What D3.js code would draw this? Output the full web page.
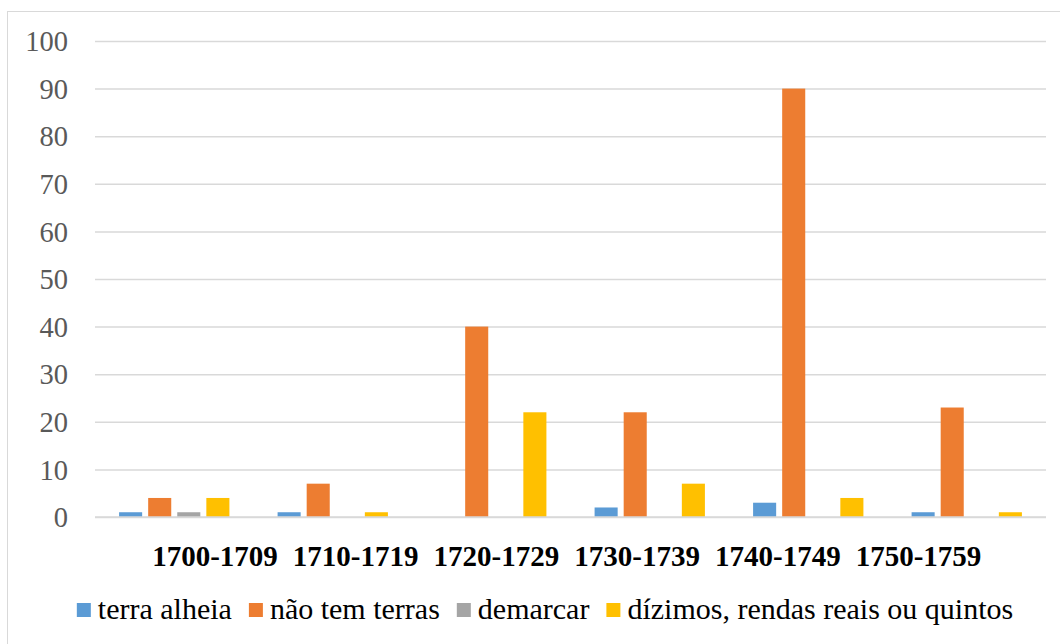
<!DOCTYPE html>
<html>
<head>
<meta charset="utf-8">
<script src="https://cdn.jsdelivr.net/npm/d3@7"></script>
<style>
  html, body { margin: 0; padding: 0; background: #fff; }
  svg { display: block; }
  svg text { font-family: "Times New Roman", "Liberation Serif", Tinos, "DejaVu Serif", serif !important; }
</style>
</head>
<body>
<svg id="chart" width="1060" height="644"></svg>
<script>
const categories = ["1700-1709", "1710-1719", "1720-1729", "1730-1739", "1740-1749", "1750-1759"];
const seriesNames = ["terra alheia", "não tem terras", "demarcar", "dízimos, rendas reais ou quintos"];
const terraAlheia = [1, 1, 0, 2, 3, 1];
const naoTemTerras = [4, 7, 40, 22, 90, 23];
const demarcar = [1, 0, 0, 0, 0, 0];
const dizimos = [4, 1, 22, 7, 4, 1];
const yTicks = [0, 10, 20, 30, 40, 50, 60, 70, 80, 90, 100];
const colors = ["#5B9BD5", "#ED7D31", "#A5A5A5", "#FFC000"];

const seriesValues = [terraAlheia, naoTemTerras, demarcar, dizimos];

const svg = d3.select("#chart");
const W = 1060, H = 644;

svg.append("rect").attr("x", 7.5).attr("y", 11.5).attr("width", W).attr("height", H)
  .attr("fill", "#fff").attr("stroke", "#d9d9d9").attr("stroke-width", 1);

const plot = { left: 95, right: 1046, top: 41, bottom: 517 };

const x0 = d3.scaleBand().domain(categories).range([plot.left, plot.right]).padding(0);
const groupW = x0.bandwidth();
const x1 = d3.scaleBand().domain(seriesNames)
  .range([groupW * 0.152, groupW * 0.848]).paddingInner(0.207).paddingOuter(0);
const y = d3.scaleLinear().domain([0, 100]).range([plot.bottom, plot.top]);

const yAxis = d3.axisLeft(y).tickValues(yTicks).tickSize(-(plot.right - plot.left)).tickPadding(27).tickFormat(d3.format("d"));
const gy = svg.append("g").attr("transform", `translate(${plot.left},0)`).call(yAxis);
gy.attr("font-family", null).attr("font-size", null);
gy.select(".domain").remove();
gy.selectAll(".tick line").attr("stroke", "#d9d9d9").attr("stroke-width", 1.5);
gy.selectAll(".tick text").attr("fill", "#595959").style("font-size", "28.5px").attr("dy", "0.34em");

const groups = svg.append("g").selectAll("g").data(categories).join("g")
  .attr("transform", d => `translate(${x0(d)},0)`);
groups.selectAll("rect")
  .data((c, ci) => seriesNames.map((s, si) => ({ s, si, v: seriesValues[si][ci] })))
  .join("rect")
  .filter(d => d.v > 0)
  .attr("x", d => x1(d.s))
  .attr("width", x1.bandwidth())
  .attr("y", d => y(d.v))
  .attr("height", d => y(0) - y(d.v))
  .attr("fill", d => colors[d.si]);

svg.append("line").attr("x1", plot.left).attr("x2", plot.right)
  .attr("y1", y(0)).attr("y2", y(0)).attr("stroke", "#d9d9d9").attr("stroke-width", 1.5);

// category labels: packed tightly under the plot as in the reference
const xLabel = d3.scalePoint().domain(categories).range([214.5, 918]);
const xAxis = d3.axisBottom(xLabel).tickSize(0).tickPadding(0);
const gx = svg.append("g").attr("transform", `translate(0,${plot.bottom})`).call(xAxis);
gx.attr("font-family", null).attr("font-size", null);
gx.select(".domain").remove();
gx.selectAll(".tick text").attr("fill", "#000").style("font-size", "29px").style("font-weight", "bold")
  .attr("y", 49).attr("dy", 0);

const legend = svg.append("g");
const items = legend.selectAll("g").data(seriesNames).join("g");
items.append("rect").attr("x", 0).attr("y", -16).attr("width", 14).attr("height", 14)
  .attr("fill", (d, i) => colors[i]);
items.append("text").attr("x", 21).attr("y", 0).style("font-size", "30px").attr("fill", "#000").text(d => d);
let cx = 0;
items.each(function () {
  const g = d3.select(this);
  const tw = g.select("text").node().getComputedTextLength();
  g.attr("transform", `translate(${cx},0)`);
  cx += 21 + tw + 17;
});
const totalW = cx - 17;
legend.attr("transform", `translate(${545 - totalW / 2},619)`);
</script>
</body>
</html>
